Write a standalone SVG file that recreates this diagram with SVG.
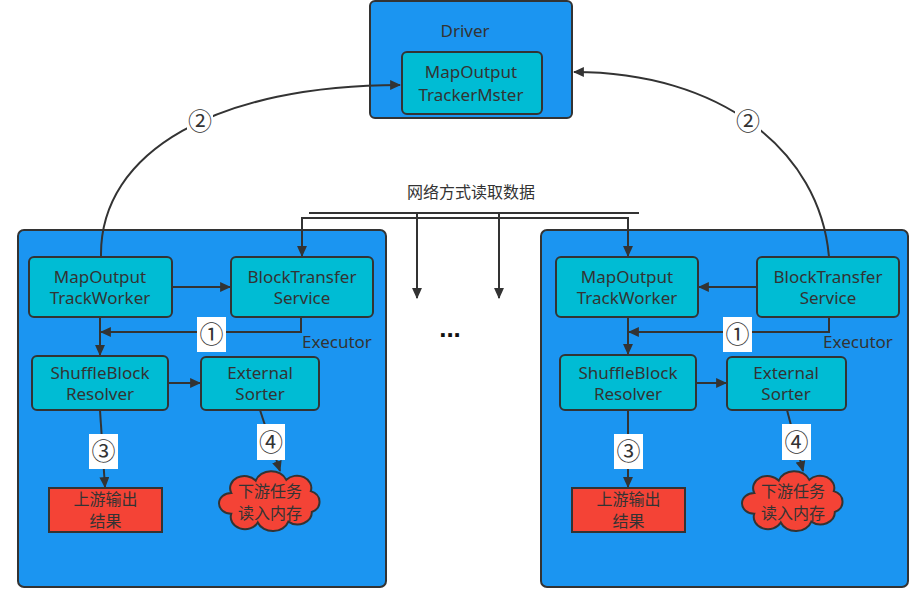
<svg xmlns="http://www.w3.org/2000/svg" width="917" height="598" viewBox="0 0 917 598">
<defs>
<style>
.big{fill:#1b95f1;stroke:#333;stroke-width:2}
.box{fill:#00bcd4;stroke:#333;stroke-width:2}
.red{fill:#f44336;stroke:#333;stroke-width:2}
.t{font-family:"Noto Sans","Noto Sans CJK SC",sans-serif;font-size:17px;fill:#333;text-anchor:middle}
.c{font-family:"Liberation Sans","Noto Sans CJK SC",sans-serif;font-size:16px;fill:#333;text-anchor:middle}
.num{font-family:"Noto Sans CJK SC","DejaVu Sans",sans-serif;font-size:24px;fill:#333;text-anchor:middle}
.ln{fill:none;stroke:#333;stroke-width:2}
.lbl{fill:#fff}
</style>
<marker id="ah" viewBox="0 0 10 9" refX="9" refY="4.5" markerWidth="5.5" markerHeight="5" markerUnits="strokeWidth" orient="auto">
<path d="M0,0 L10,4.5 L0,9 Z" fill="#333"/>
</marker>
<path id="cloud" d="M12,24 A14,14 0 0 1 36,10 A16,16 0 0 1 66,9 A14,14 0 0 1 90,22 A13,13 0 0 1 91,46 A14,14 0 0 1 68,57 A16,16 0 0 1 38,58 A14,14 0 0 1 12,48 A12,12 0 0 1 12,24 Z" fill="#f44336" stroke="#333" stroke-width="2" vector-effect="non-scaling-stroke"/>
</defs>
<rect width="917" height="598" fill="#fff"/>

<g id="driver">
<rect class="big" x="370" y="1" width="202" height="117" rx="5"/>
<text class="t" x="465" y="37" font-size="16">Driver</text>
</g>
<g id="tracker-master">
<rect class="box" x="402" y="52" width="140" height="62" rx="5"/>
<text class="t" x="471" y="78">MapOutput</text>
<text class="t" x="471" y="101">TrackerMster</text>
</g>

<g id="executor-left">
<rect class="big" x="18" y="230" width="368" height="357" rx="6"/>
<text class="t" x="337" y="348">Executor</text>
</g>
<g id="executor-right">
<rect class="big" x="541" y="230" width="367" height="357" rx="6"/>
<text class="t" x="858" y="348">Executor</text>
</g>

<g id="connectors">
<path class="ln" d="M101,257 C99,150 220,85 400,85" marker-end="url(#ah)"/>
<path class="ln" d="M829,257 C820,150 720,72 574,72" marker-end="url(#ah)"/>
<path class="ln" d="M309,213 H639"/>
<path class="ln" d="M302,218 H628"/>
<path class="ln" d="M302,217 V256" marker-end="url(#ah)"/>
<path class="ln" d="M628,217 V256" marker-end="url(#ah)"/>
<path class="ln" d="M417,213 V298" marker-end="url(#ah)"/>
<path class="ln" d="M499,213 V298" marker-end="url(#ah)"/>
<path class="ln" d="M172,287 H230" marker-end="url(#ah)"/>
<path class="ln" d="M100,317 V355" marker-end="url(#ah)"/>
<path class="ln" d="M301,317 V332 H101" marker-end="url(#ah)"/>
<path class="ln" d="M168,383 H200" marker-end="url(#ah)"/>
<path class="ln" d="M100,410 L105,487" marker-end="url(#ah)"/>
<path class="ln" d="M260,410 L280,471" marker-end="url(#ah)"/>
<path class="ln" d="M757,287 H699" marker-end="url(#ah)"/>
<path class="ln" d="M628,317 V354" marker-end="url(#ah)"/>
<path class="ln" d="M829,317 V332 H629" marker-end="url(#ah)"/>
<path class="ln" d="M696,383 H726" marker-end="url(#ah)"/>
<path class="ln" d="M628,410 V487" marker-end="url(#ah)"/>
<path class="ln" d="M787,410 L803,471" marker-end="url(#ah)"/>
<rect class="lbl" x="187" y="108" width="26" height="27"/>
<text class="num" x="200" y="130">②</text>
<rect class="lbl" x="735" y="108" width="26" height="27"/>
<text class="num" x="748" y="130">②</text>
<rect class="lbl" x="197" y="317" width="29" height="35"/>
<text class="num" x="211.5" y="343">①</text>
<rect class="lbl" x="723" y="317" width="29" height="35"/>
<text class="num" x="737.5" y="343">①</text>
<rect class="lbl" x="89" y="434" width="29" height="35"/>
<text class="num" x="103.5" y="460">③</text>
<rect class="lbl" x="614" y="434" width="29" height="35"/>
<text class="num" x="628.5" y="460">③</text>
<rect class="lbl" x="257" y="424" width="28" height="36"/>
<text class="num" x="271" y="451">④</text>
<rect class="lbl" x="782" y="424" width="29" height="36"/>
<text class="num" x="796.5" y="451">④</text>
<text class="c" x="471" y="198" font-size="17" fill="#444">网络方式读取数据</text>
<text x="450" y="337" font-family="Liberation Sans,sans-serif" font-size="26" font-weight="bold" fill="#111" text-anchor="middle">...</text>
</g>

<g id="left-maptracker">
<rect class="box" x="29" y="257" width="143" height="60" rx="5"/>
<text class="t" x="100" y="283">MapOutput</text>
<text class="t" x="100" y="304">TrackWorker</text>
</g>
<g id="left-blocktransfer">
<rect class="box" x="231" y="257" width="142" height="60" rx="5"/>
<text class="t" x="302" y="283">BlockTransfer</text>
<text class="t" x="302" y="304">Service</text>
</g>
<g id="left-shuffle">
<rect class="box" x="32" y="356" width="136" height="54" rx="5"/>
<text class="t" x="100" y="379">ShuffleBlock</text>
<text class="t" x="100" y="400">Resolver</text>
</g>
<g id="left-sorter">
<rect class="box" x="201" y="357" width="118" height="53" rx="5"/>
<text class="t" x="260" y="379">External</text>
<text class="t" x="260" y="400">Sorter</text>
</g>
<g id="left-output">
<rect class="red" x="49" y="488" width="113" height="44"/>
<text class="c" x="105.5" y="505">上游输出</text>
<text class="c" x="105.5" y="527">结果</text>
</g>
<g id="left-cloud">
<use href="#cloud" transform="translate(219,472) scale(1.02,0.87)"/>
<text class="c" x="270" y="497">下游任务</text>
<text class="c" x="270" y="519">读入内存</text>
</g>

<g id="right-maptracker">
<rect class="box" x="556" y="257" width="142" height="60" rx="5"/>
<text class="t" x="627" y="283">MapOutput</text>
<text class="t" x="627" y="304">TrackWorker</text>
</g>
<g id="right-blocktransfer">
<rect class="box" x="757" y="257" width="142" height="60" rx="5"/>
<text class="t" x="828" y="283">BlockTransfer</text>
<text class="t" x="828" y="304">Service</text>
</g>
<g id="right-shuffle">
<rect class="box" x="560" y="355" width="136" height="55" rx="5" stroke="#000" stroke-width="2.5"/>
<text class="t" x="628" y="379">ShuffleBlock</text>
<text class="t" x="628" y="400">Resolver</text>
</g>
<g id="right-sorter">
<rect class="box" x="727" y="357" width="119" height="53" rx="5"/>
<text class="t" x="786" y="379">External</text>
<text class="t" x="786" y="400">Sorter</text>
</g>
<g id="right-output">
<rect class="red" x="572" y="488" width="113" height="44"/>
<text class="c" x="628.5" y="505">上游输出</text>
<text class="c" x="628.5" y="527">结果</text>
</g>
<g id="right-cloud">
<use href="#cloud" transform="translate(742,472) scale(1.02,0.87)"/>
<text class="c" x="793" y="497">下游任务</text>
<text class="c" x="793" y="519">读入内存</text>
</g>
</svg>
